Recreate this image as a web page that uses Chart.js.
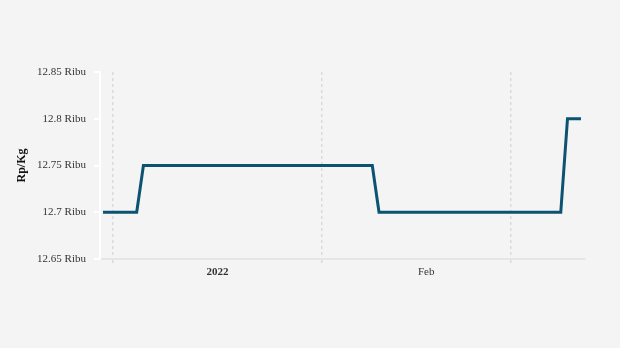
<!DOCTYPE html>
<html>
<head>
<meta charset="utf-8">
<script src="https://cdn.jsdelivr.net/npm/chart.js@4"></script>
<style>
  html, body { margin: 0; padding: 0; background: #f4f4f4; }
  #wrap { width: 620px; height: 348px; position: relative; }
</style>
</head>
<body>
<div id="wrap"><canvas id="priceChart"></canvas></div>
<script>
// harian, 15 Des 2021 - 24 Feb 2022
const dates = [
  '2021-12-15','2021-12-16','2021-12-17','2021-12-18','2021-12-19','2021-12-20','2021-12-21','2021-12-22',
  '2021-12-23','2021-12-24','2021-12-25','2021-12-26','2021-12-27','2021-12-28','2021-12-29','2021-12-30',
  '2021-12-31','2022-01-01','2022-01-02','2022-01-03','2022-01-04','2022-01-05','2022-01-06','2022-01-07',
  '2022-01-08','2022-01-09','2022-01-10','2022-01-11','2022-01-12','2022-01-13','2022-01-14','2022-01-15',
  '2022-01-16','2022-01-17','2022-01-18','2022-01-19','2022-01-20','2022-01-21','2022-01-22','2022-01-23',
  '2022-01-24','2022-01-25','2022-01-26','2022-01-27','2022-01-28','2022-01-29','2022-01-30','2022-01-31',
  '2022-02-01','2022-02-02','2022-02-03','2022-02-04','2022-02-05','2022-02-06','2022-02-07','2022-02-08',
  '2022-02-09','2022-02-10','2022-02-11','2022-02-12','2022-02-13','2022-02-14','2022-02-15','2022-02-16',
  '2022-02-17','2022-02-18','2022-02-19','2022-02-20','2022-02-21','2022-02-22','2022-02-23','2022-02-24'
];

// Rp ribu / kg
const prices = [
  12.7, 12.7, 12.7, 12.7, 12.7, 12.7, 12.75, 12.75,
  12.75, 12.75, 12.75, 12.75, 12.75, 12.75, 12.75, 12.75,
  12.75, 12.75, 12.75, 12.75, 12.75, 12.75, 12.75, 12.75,
  12.75, 12.75, 12.75, 12.75, 12.75, 12.75, 12.75, 12.75,
  12.75, 12.75, 12.75, 12.75, 12.75, 12.75, 12.75, 12.75,
  12.75, 12.7, 12.7, 12.7, 12.7, 12.7, 12.7, 12.7,
  12.7, 12.7, 12.7, 12.7, 12.7, 12.7, 12.7, 12.7,
  12.7, 12.7, 12.7, 12.7, 12.7, 12.7, 12.7, 12.7,
  12.7, 12.7, 12.7, 12.7, 12.7, 12.8, 12.8, 12.8
];

// label sumbu x (tanggal -> teks)
const xLabelDates = ['2022-01-01', '2022-02-01'];
const xLabelTexts = ['2022', 'Feb'];

// posisi garis grid vertikal (dalam hari dari awal data)
const gridDays = [1.5, 32.5, 60.6];

const yMin = 12.65;
const yMax = 12.85;
const yStep = 0.05;

const FONT = "'Liberation Serif', 'Times New Roman', serif";

const points = dates.map((d, i) => ({ x: i, y: prices[i] }));
const labelIdx = xLabelDates.map(d => dates.indexOf(d));

const ctx = document.getElementById('priceChart').getContext('2d');

const priceChart = new Chart(ctx, {
  type: 'line',
  data: {
    datasets: [{
      label: 'Harga',
      data: points,
      borderColor: '#0b5370',
      borderWidth: 3,
      pointRadius: 0,
      tension: 0,
      fill: false
    }]
  },
  options: {
    responsive: true,
    maintainAspectRatio: false,
    animation: false,
    layout: { padding: { top: 72, right: 35, left: 0, bottom: 0 } },
    plugins: {
      legend: { display: false },
      tooltip: { enabled: false }
    },
    scales: {
      x: {
        type: 'linear',
        min: -0.45,
        max: 71.6,
        afterFit: scale => { scale.height = 89; },
        afterBuildTicks: scale => {
          const vals = gridDays.concat(labelIdx).sort((a, b) => a - b);
          scale.ticks = vals.map(v => ({ value: v }));
        },
        border: { color: '#e6e6e6', width: 2, dash: [3, 3] },
        grid: {
          color: c => (c.tick && labelIdx.includes(c.tick.value)) ? 'rgba(0,0,0,0)' : '#dadada',
          lineWidth: 1.5,
          tickLength: 4,
          tickBorderDash: [3, 3]
        },
        ticks: {
          autoSkip: false,
          maxRotation: 0,
          padding: 3,
          color: '#333333',
          font: c => ({
            family: FONT,
            size: 11,
            weight: (c.tick && c.tick.value === labelIdx[0]) ? 'bold' : 'normal'
          }),
          callback: value => {
            const k = labelIdx.indexOf(value);
            return k >= 0 ? xLabelTexts[k] : '';
          }
        }
      },
      y: {
        min: yMin,
        max: yMax,
        afterFit: scale => { scale.width = 100; },
        border: { color: '#ffffff', width: 2 },
        grid: {
          drawOnChartArea: false,
          color: '#ffffff',
          lineWidth: 2,
          tickLength: 6
        },
        ticks: {
          stepSize: yStep,
          padding: 8,
          color: '#333333',
          font: { family: FONT, size: 11 },
          callback: v => parseFloat(v.toFixed(2)) + ' Ribu'
        },
        title: {
          display: true,
          text: 'Rp/Kg',
          color: '#111111',
          font: { family: FONT, size: 12, weight: 'bold' },
          padding: { top: 15, bottom: 0 }
        }
      }
    }
  }
});
</script>
</body>
</html>
